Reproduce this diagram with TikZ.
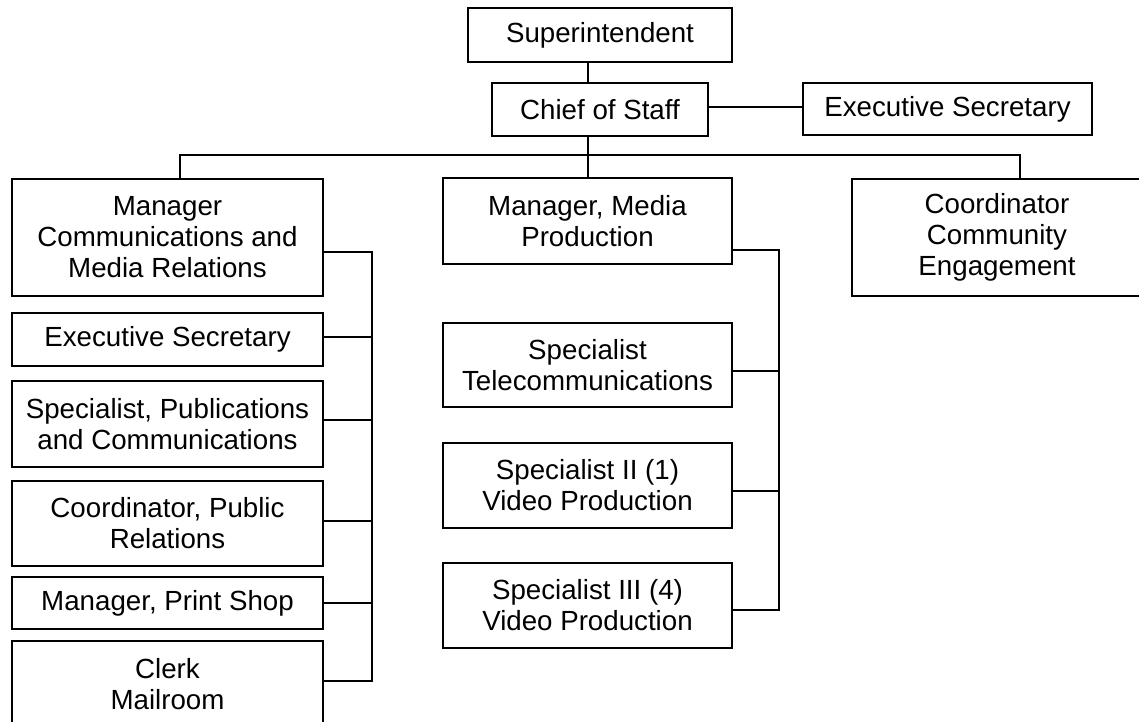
\documentclass[tikz,border=0pt]{standalone}
\usepackage{fontspec}
\setmainfont{Liberation Sans}
\begin{document}
\begin{tikzpicture}[x=1pt,y=-1pt,
  box/.style={draw=black,line width=1.3pt,fill=white,inner sep=0pt,outer sep=0pt,
    align=center,font=\fontsize{27.7}{31}\selectfont},
  link/.style={draw=black,line width=1.1pt}]
\useasboundingbox (0,0) rectangle (1139,721);

% top levels
\node[box,minimum width=264pt,minimum height=54pt] (sup) at (600,35) {Superintendent};
\node[box,minimum width=216pt,minimum height=53pt] (cos) at (600,109.5) {Chief of Staff};
\node[box,minimum width=289pt,minimum height=52pt] (es1) at (947.5,109) {Executive Secretary};

% department heads
\node[box,minimum width=311pt,minimum height=117pt] (mc) at (167.5,237.5) {Manager\\Communications and\\Media Relations};
\node[box,minimum width=289pt,minimum height=86pt] (mp) at (587.5,221) {Manager, Media\\Production};
\node[box,minimum width=290pt,minimum height=117pt] (co) at (997,237.5) {Coordinator\\Community\\Engagement};

% communications staff
\node[box,minimum width=311pt,minimum height=53pt] (es2) at (167.5,339.5) {Executive Secretary};
\node[box,minimum width=311pt,minimum height=86pt] (sp) at (167.5,424) {Specialist, Publications\\and Communications};
\node[box,minimum width=311pt,minimum height=85pt] (cp) at (167.5,523.5) {Coordinator, Public\\Relations};
\node[box,minimum width=311pt,minimum height=52pt] (ps) at (167.5,603) {Manager, Print Shop};
\node[box,minimum width=311pt,minimum height=86pt] (cl) at (167.5,684) {Clerk\\Mailroom};

% media production staff
\node[box,minimum width=289pt,minimum height=84pt] (tc) at (587.5,365) {Specialist\\Telecommunications};
\node[box,minimum width=289pt,minimum height=85pt] (s2) at (587.5,485.5) {Specialist II (1)\\Video Production};
\node[box,minimum width=289pt,minimum height=85pt] (s3) at (587.5,605.5) {Specialist III (4)\\Video Production};

% spine positions
\coordinate (bus) at (588,155);
\coordinate (lsp) at (372,0);
\coordinate (msp) at (779,0);

% upper connectors
\draw[link] ([xshift=-12pt]sup.south) -- ([xshift=-12pt]cos.north);
\draw[link] ([yshift=2.5pt]cos.east) -- ([yshift=2.5pt]cos.east -| es1.west);
\draw[link] ([xshift=-12pt]cos.south) -- ([xshift=-12pt]cos.south |- mp.north);
\draw[link] ([xshift=12.5pt]mc.north) |- (bus) -| ([xshift=23pt]co.north);

% communications branch
\draw[link] ([yshift=-14.5pt]mc.east) -| ([yshift=3pt]cl.east -| lsp) -- ([yshift=3pt]cl.east);
\draw[link] ([yshift=2.5pt]es2.east) -- ([yshift=2.5pt]es2.east -| lsp);
\draw[link] ([yshift=4pt]sp.east) -- ([yshift=4pt]sp.east -| lsp);
\draw[link] ([yshift=2.5pt]cp.east) -- ([yshift=2.5pt]cp.east -| lsp);
\draw[link] (ps.east) -- (ps.east -| lsp);

% media production branch
\draw[link] ([yshift=-29pt]mp.east) -| ([yshift=-4.5pt]s3.east -| msp) -- ([yshift=-4.5pt]s3.east);
\draw[link] ([yshift=-6pt]tc.east) -- ([yshift=-6pt]tc.east -| msp);
\draw[link] ([yshift=-5.5pt]s2.east) -- ([yshift=-5.5pt]s2.east -| msp);
\end{tikzpicture}
\end{document}
